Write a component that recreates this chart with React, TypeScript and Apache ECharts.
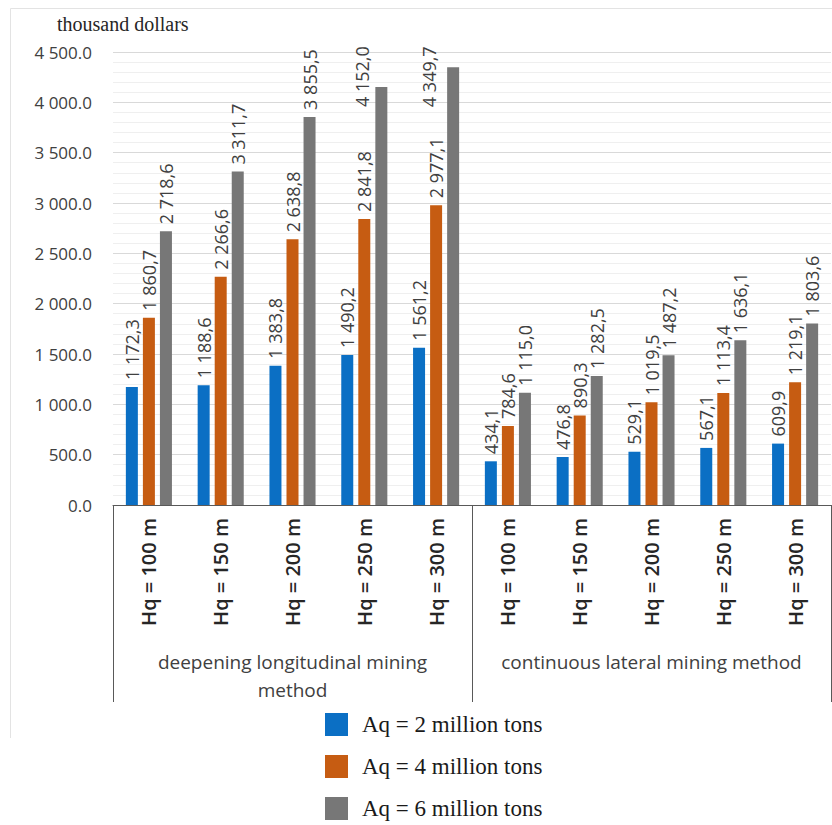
import React, { useEffect, useRef } from "react";
import * as echarts from "echarts";

const categories = [
  "Hq = 100 m", "Hq = 150 m", "Hq = 200 m", "Hq = 250 m", "Hq = 300 m",
  "Hq = 100 m", "Hq = 150 m", "Hq = 200 m", "Hq = 250 m", "Hq = 300 m",
];
const groups = ["deepening longitudinal mining\nmethod", "continuous lateral mining method"];
const seriesNames = ["Aq = 2 million tons", "Aq = 4 million tons", "Aq = 6 million tons"];
const aq2 = [1172.3, 1188.6, 1383.8, 1490.2, 1561.2, 434.1, 476.8, 529.1, 567.1, 609.9];
const aq4 = [1860.7, 2266.6, 2638.8, 2841.8, 2977.1, 784.6, 890.3, 1019.5, 1113.4, 1219.1];
const aq6 = [2718.6, 3311.7, 3855.5, 4152.0, 4349.7, 1115.0, 1282.5, 1487.2, 1636.1, 1803.6];
const colors = ["#0B6FC4", "#C65C12", "#777777"];

function fmtGroup(v: number, dec: string) {
  const s = v.toFixed(1);
  const [i, d] = s.split(".");
  const ii = i.replace(/\B(?=(\d{3})+(?!\d))/g, " ");
  return ii + dec + d;
}

export default function App() {
  const ref = useRef<HTMLDivElement>(null);
  useEffect(() => {
    if (!ref.current) return;
    const chart = echarts.init(ref.current, null, { renderer: "svg" });
    const sans = "'Open Sans', 'Noto Sans', sans-serif";
    const serif = "'Liberation Serif', 'DejaVu Serif', serif";
    const mk = (name: string, data: any[], color: string) => ({
      name,
      type: "bar",
      data,
      barWidth: 12,
      barGap: "42%",
      itemStyle: { color },
      label: {
        show: true,
        position: "top",
        rotate: 90,
        align: "left",
        verticalAlign: "middle",
        distance: 7,
        fontFamily: sans,
        fontSize: 18,
        color: "#404040",
        formatter: (p: any) => fmtGroup(p.value, ","),
      },
    });
    // the two tallest labels were moved down beside their bars in the original
    const aq6Items = aq6.map((v) =>
      v > 4300
        ? { value: v, label: { position: [-18, 40] } }
        : v > 4100
        ? { value: v, label: { position: [-13, 20] } }
        : v
    );
    chart.setOption({
      animation: false,
      backgroundColor: "#ffffff",
      title: {
        text: "thousand dollars",
        left: 52,
        top: 9,
        textStyle: { fontFamily: serif, fontSize: 20, fontWeight: "normal", color: "#262626" },
      },
      grid: { left: 113, right: 1, top: 52, bottom: 320, containLabel: false },
      legend: {
        orient: "vertical",
        left: 325,
        top: 713,
        padding: 0,
        height: 110,
        itemWidth: 23,
        itemHeight: 23,
        itemGap: 19,
        icon: "rect",
        data: seriesNames,
        textStyle: { fontFamily: serif, fontSize: 23, color: "#1a1a1a", padding: [0, 0, 0, 9] },
      },
      xAxis: [
        {
          type: "category",
          data: categories,
          position: "bottom",
          axisLine: { show: true, lineStyle: { color: "#595959", width: 1 } },
          axisTick: { show: false },
          axisLabel: {
            interval: 0,
            rotate: 90,
            margin: 13,
            fontFamily: sans,
            fontSize: 20,
            fontWeight: 600,
            color: "#262626",
          },
          splitLine: { show: false },
        },
        {
          type: "category",
          data: groups,
          position: "bottom",
          axisLine: { show: false },
          axisTick: { show: true, interval: 0, length: 197, lineStyle: { color: "#595959", width: 1 } },
          axisLabel: {
            interval: 0,
            margin: 143,
            fontFamily: sans,
            fontSize: 19,
            lineHeight: 28,
            color: "#404040",
          },
          splitLine: { show: false },
        },
      ],
      yAxis: {
        type: "value",
        min: 0,
        max: 4500,
        interval: 500,
        axisLine: { show: false },
        axisTick: { show: false },
        axisLabel: {
          margin: 21,
          fontFamily: sans,
          fontSize: 17,
          color: "#404040",
          formatter: (v: number) => fmtGroup(v, "."),
        },
        splitLine: { show: true, lineStyle: { color: "#D9D9D9", width: 1 } },
        minorTick: { show: false, splitNumber: 5 },
        minorSplitLine: { show: true, lineStyle: { color: "#EFEFEF", width: 1 } },
      },
      graphic: [
        { type: "line", shape: { x1: 10.5, y1: 8.5, x2: 832, y2: 8.5 }, style: { stroke: "#E3E3E3", lineWidth: 1 } },
        { type: "line", shape: { x1: 10.5, y1: 8.5, x2: 10.5, y2: 738 }, style: { stroke: "#E3E3E3", lineWidth: 1 } },
      ],
      series: [
        mk(seriesNames[0], aq2, colors[0]),
        mk(seriesNames[1], aq4, colors[1]),
        mk(seriesNames[2], aq6Items, colors[2]),
      ],
    });
    return () => chart.dispose();
  }, []);
  return (
    <div
      ref={ref}
      style={{ position: "absolute", left: 0, top: 0, width: 832, height: 825, background: "#fff" }}
    />
  );
}
